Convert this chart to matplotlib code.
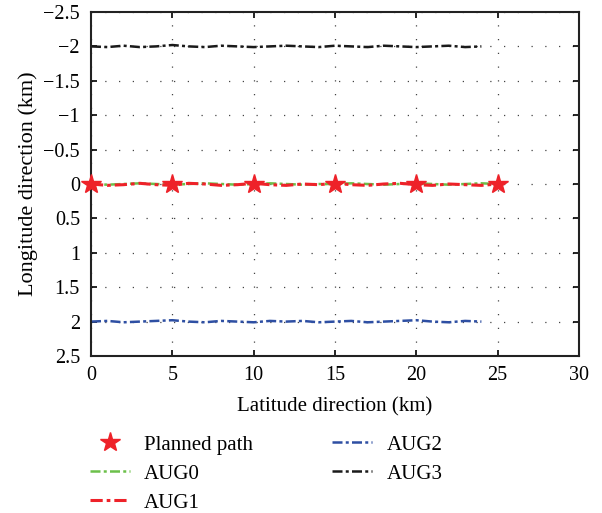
import matplotlib.pyplot as plt

plt.rcParams['font.family'] = ['Liberation Serif', 'DejaVu Serif']

# planned waypoints
path_x = [0, 5, 10, 15, 20, 25]
path_y = [0, 0, 0, 0, 0, 0]

# AUV tracks (km)
aug0_x = [0, 1, 2, 3, 4, 5, 6, 7, 8, 9, 10, 11, 12, 13, 14, 15, 16, 17, 18, 19, 20, 21, 22, 23, 24, 25]
aug0_y = [0.0, 0.01, 0.0, -0.01, 0.0, 0.01, 0.0, -0.01, 0.0, 0.01, 0.0, -0.01, 0.0, 0.01, 0.0, 0.0,
          -0.01, 0.0, 0.01, 0.0, -0.01, 0.0, 0.01, 0.0, -0.01, 0.0]
aug1_x = aug0_x
aug1_y = [0.0, 0.02, 0.01, -0.01, 0.01, 0.02, -0.01, 0.0, 0.02, 0.01, -0.01, 0.01, 0.02, 0.0, 0.01,
          -0.01, 0.01, 0.02, 0.0, -0.01, 0.01, 0.02, 0.0, 0.01, 0.02, 0.0]
aug2_x = [0, 1, 2, 3, 4, 5, 6, 7, 8, 9, 10, 11, 12, 13, 14, 15, 16, 17, 18, 19, 20, 21, 22, 23, 24]
aug2_y = [2.0, 1.99, 2.01, 2.0, 1.99, 1.98, 2.0, 2.01, 1.99, 2.0, 2.01, 1.99, 2.0, 1.99, 2.01, 2.0,
          1.99, 2.01, 2.0, 1.99, 1.98, 2.0, 2.01, 1.99, 2.0]
aug3_x = aug2_x
aug3_y = [-2.0, -1.99, -2.01, -1.99, -2.0, -2.02, -2.0, -1.99, -2.01, -2.0, -1.99, -2.0, -2.01,
          -2.0, -1.99, -2.01, -2.0, -1.99, -2.01, -2.0, -1.99, -2.0, -2.01, -1.99, -2.0]

xticks = [0, 5, 10, 15, 20, 25, 30]
yticks = [-2.5, -2, -1.5, -1, -0.5, 0, 0.5, 1, 1.5, 2, 2.5]
ytick_labels = ['\u22122.5', '\u22122', '\u22121.5', '\u22121', '\u22120.5', '0',
                '0.5', '1', '1.5', '2', '2.5']

fig = plt.figure(figsize=(6.02, 5.13), dpi=100)
ax = fig.add_axes([91 / 602, 1 - 356 / 513, 488 / 602, 344 / 513])

dash = (0, (4, 1.3, 1.2, 1.3))
ax.plot(path_x, path_y, linestyle='none', marker='*', markersize=15, color='#ee2229',
        label='Planned path', zorder=5, clip_on=False)
ax.plot(aug0_x, aug0_y, linestyle=dash, color='#6cc04a', lw=1.8, label='AUG0')
ax.plot(aug1_x, aug1_y, linestyle=dash, color='#ee2229', lw=2.2, label='AUG1')
ax.plot(aug2_x, aug2_y, linestyle=dash, color='#2e4fa3', lw=1.8, label='AUG2')
ax.plot(aug3_x, aug3_y, linestyle=dash, color='#1a1a1a', lw=1.8, label='AUG3')

ax.set_xlim(0, 30)
ax.set_ylim(2.5, -2.5)
ax.set_xticks(xticks)
ax.set_yticks(yticks)
ax.set_yticklabels(ytick_labels)
ax.grid(True, linestyle=(0, (1, 10)), color='#444444', lw=0.9)
ax.tick_params(direction='in', top=True, right=True, labelsize=14.5, length=4, width=1.2)
ax.tick_params(axis='y', pad=8)
ax.tick_params(axis='x', pad=7)
for s in ax.spines.values():
    s.set_linewidth(1.5)
    s.set_color('#222222')

ax.set_xlabel('Latitude direction (km)', fontsize=15, labelpad=9)
ax.set_ylabel('Longitude direction (km)', fontsize=16, labelpad=4)

fig.legend(loc='upper left', bbox_to_anchor=(90 / 602, 1 - 435 / 513), ncol=2,
           frameon=False, fontsize=15, columnspacing=3.8, handlelength=1.9,
           handletextpad=0.7, labelspacing=0.45, borderpad=0, borderaxespad=0)

fig.savefig('out.png', dpi=100)
